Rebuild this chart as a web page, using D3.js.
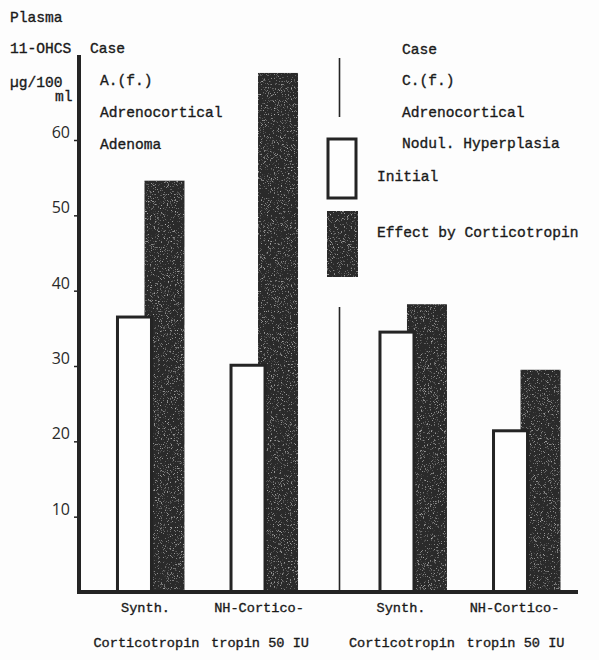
<!DOCTYPE html>
<html>
<head>
<meta charset="utf-8">
<script src="https://cdn.jsdelivr.net/npm/d3@7"></script>
<style>
  html, body { margin: 0; padding: 0; background: #fdfdfd; }
  svg { display: block; }
  .tw { font-family: "Liberation Mono", "DejaVu Sans Mono", monospace; font-size: 14.6px; fill: #1a1a1a; stroke: #1a1a1a; stroke-width: 0.35px; }
  .tw.small { font-size: 13.6px; }
  .tick text { font-family: "Open Sans", "DejaVu Sans", sans-serif; font-size: 16px; fill: #2a2a2a; }
</style>
</head>
<body>
<div id="chart"></div>
<script>
// values (plasma 11-OHCS, µg/100 ml)
var cases = ['A', 'A', 'C', 'C'];
var groupIdx = [0, 1, 0, 1];
var labelLine1 = ['Synth.', 'NH-Cortico-', 'Synth.', 'NH-Cortico-'];
var labelLine2 = ['Corticotropin', 'tropin 50 IU', 'Corticotropin', 'tropin 50 IU'];
var initial = [36.5, 30.1, 34.5, 21.4];
var effect = [54.6, 68.9, 38.2, 29.5];
var yTicks = [10, 20, 30, 40, 50, 60];

var width = 599, height = 660;
var ink = '#242424';
var dark = '#2a2a2a';

var svg = d3.select('#chart').append('svg')
  .attr('width', width)
  .attr('height', height);

// speckle so the dark bars look like the printed screen
var defs = svg.append('defs');
var grain = defs.append('filter').attr('id', 'grain')
  .attr('x', 0).attr('y', 0).attr('width', 1).attr('height', 1);
grain.append('feTurbulence')
  .attr('type', 'fractalNoise').attr('baseFrequency', 1.3)
  .attr('numOctaves', 2).attr('seed', 4).attr('result', 'n');
grain.append('feColorMatrix').attr('in', 'n').attr('type', 'matrix')
  .attr('values', '0 0 0 0 0.45  0 0 0 0 0.45  0 0 0 0 0.45  0 0 0 4 -2.4')
  .attr('result', 's');
grain.append('feComposite').attr('in', 's').attr('in2', 'SourceGraphic')
  .attr('operator', 'in').attr('result', 'sp');
var merge = grain.append('feMerge');
merge.append('feMergeNode').attr('in', 'SourceGraphic');
merge.append('feMergeNode').attr('in', 'sp');

var y = d3.scaleLinear().domain([0, 60]).range([592, 140]);

// one band per case, two bar groups inside each
var xCase = d3.scaleBand().domain(['A', 'C']).range([76, 601]);
var xGroup = d3.scalePoint().domain([0, 1]).range([0, xCase.bandwidth()]).padding(0.656);

function center(i) { return xCase(cases[i]) + xGroup(groupIdx[i]); }

var rows = initial.map(function (v, i) {
  return { i: i, initial: v, effect: effect[i], c: center(i) };
});

// dark bars (effect by corticotropin) behind
svg.append('g').selectAll('rect')
  .data(rows)
  .join('rect')
  .attr('x', function (d) { return d.c - 6; })
  .attr('width', 40)
  .attr('y', function (d) { return y(d.effect); })
  .attr('height', function (d) { return y(0) - y(d.effect); })
  .attr('fill', dark)
  .attr('filter', 'url(#grain)');

// white bars (initial) in front
svg.append('g').selectAll('rect')
  .data(rows)
  .join('rect')
  .attr('x', function (d) { return d.c - 33; })
  .attr('width', 34)
  .attr('y', function (d) { return y(d.initial); })
  .attr('height', function (d) { return y(0) - y(d.initial); })
  .attr('fill', '#fefefe')
  .attr('stroke', ink)
  .attr('stroke-width', 3);

// y axis
var yAxis = svg.append('g')
  .attr('transform', 'translate(77,0)')
  .call(d3.axisLeft(y).tickValues(yTicks).tickSize(3).tickPadding(4));
yAxis.select('.domain').remove();
yAxis.selectAll('.tick line').attr('stroke', ink).attr('stroke-width', 1.5);
yAxis.selectAll('.tick text').attr('dy', '-0.15em');

svg.append('line')
  .attr('x1', 79).attr('x2', 79)
  .attr('y1', 55).attr('y2', y(0) + 2)
  .attr('stroke', ink).attr('stroke-width', 4);

svg.append('line')
  .attr('x1', 77).attr('x2', 578)
  .attr('y1', y(0)).attr('y2', y(0))
  .attr('stroke', ink).attr('stroke-width', 4);

// divider between the two cases
var divX = xCase('C') + 1;
[[58, 117], [307, y(0)]].forEach(function (s) {
  svg.append('line')
    .attr('x1', divX).attr('x2', divX)
    .attr('y1', s[0]).attr('y2', s[1])
    .attr('stroke', ink).attr('stroke-width', 1.6);
});

function txt(x, yy, s, anchor, cls) {
  svg.append('text')
    .attr('class', 'tw' + (cls ? ' ' + cls : ''))
    .attr('x', x).attr('y', yy)
    .attr('text-anchor', anchor || 'start')
    .text(s);
}

// y axis title
txt(10, 22, 'Plasma');
txt(10, 53, '11-OHCS');
txt(10, 87, '\u00b5g/100');
txt(55, 101, 'ml');

// case A
txt(90, 53, 'Case');
txt(100, 85, 'A.(f.)');
txt(100, 117, 'Adrenocortical');
txt(100, 149, 'Adenoma');

// case C
txt(402, 54, 'Case');
txt(402, 85, 'C.(f.)');
txt(402, 117, 'Adrenocortical');
txt(402, 148, 'Nodul. Hyperplasia');

// legend
svg.append('rect')
  .attr('x', 328).attr('y', 139).attr('width', 28).attr('height', 59)
  .attr('fill', '#fefefe').attr('stroke', ink).attr('stroke-width', 3);
svg.append('rect')
  .attr('x', 327).attr('y', 211).attr('width', 31).attr('height', 66)
  .attr('fill', dark).attr('filter', 'url(#grain)');
txt(377, 181, 'Initial');
txt(377, 237, 'Effect by Corticotropin');

// category labels (case C ones sit a little further left in the original)
rows.forEach(function (d) {
  var nudge = cases[d.i] === 'C' ? -7 : 0;
  txt(d.c - 5 + nudge, 612, labelLine1[d.i], 'middle', 'small');
  txt(d.c - 4 + nudge, 647, labelLine2[d.i], 'middle', 'small');
});
</script>
</body>
</html>
